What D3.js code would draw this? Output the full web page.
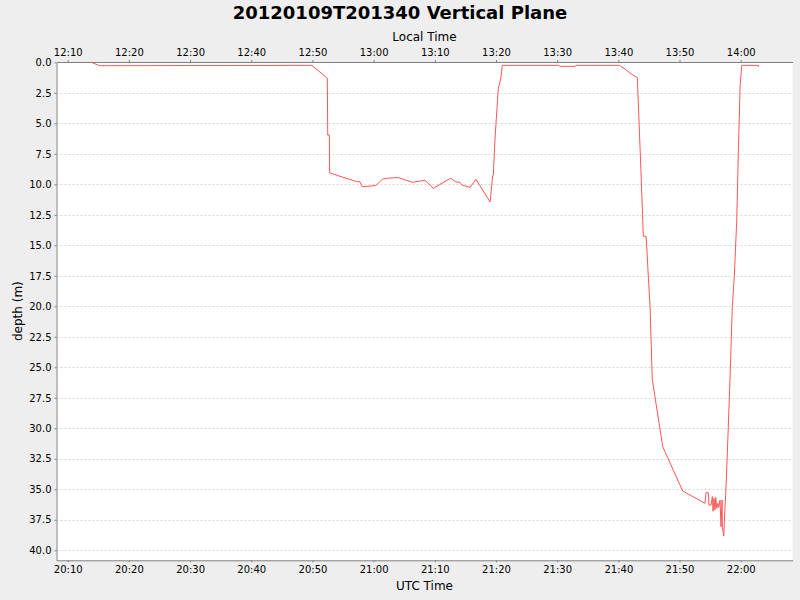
<!DOCTYPE html>
<html>
<head>
<meta charset="utf-8">
<script src="https://cdn.jsdelivr.net/npm/d3@7"></script>
<style>
  body { margin: 0; background: #eeeeee; }
  svg { display: block; font-family: "DejaVu Sans", sans-serif; }
</style>
</head>
<body>
<svg id="chart" width="800" height="600"></svg>
<script>
// dive profile, UTC clock time of each sample and depth in metres
const sampleTimes = [
  "20:13:55", "20:15:10", "20:49:53", "20:52:26", "20:52:30", "20:52:46",
  "20:52:49", "20:57:14", "20:57:47", "20:58:09", "21:00:20", "21:01:29",
  "21:02:14", "21:04:02", "21:06:20", "21:08:24", "21:09:46", "21:12:36",
  "21:13:25", "21:14:07", "21:14:24", "21:15:45", "21:16:44", "21:19:02",
  "21:19:28", "21:19:34", "21:19:51", "21:20:23", "21:20:47", "21:21:02",
  "21:30:11", "21:30:28", "21:32:55", "21:33:05", "21:40:10", "21:41:05",
  "21:41:55", "21:43:00", "21:43:06", "21:43:40", "21:44:05", "21:44:31",
  "21:44:38", "21:44:54", "21:45:11", "21:45:33", "21:47:15", "21:50:31",
  "21:54:10", "21:54:20", "21:54:43", "21:54:49", "21:55:09", "21:55:22",
  "21:55:29", "21:55:38", "21:55:48", "21:55:55", "21:56:05", "21:56:15",
  "21:56:25", "21:56:37", "21:56:47", "21:56:57", "21:57:00", "21:57:14",
  "21:57:26", "21:57:33", "21:57:49", "21:58:15", "21:58:38", "21:58:57",
  "21:59:21", "21:59:38", "21:59:54", "22:00:10", "22:02:53", "22:02:54"
];
const depths = [
  0.0, 0.28, 0.25, 1.3, 5.96, 5.96,
  9.07, 9.78, 9.8, 10.2, 10.1, 9.57,
  9.5, 9.45, 9.84, 9.67, 10.33, 9.5,
  9.8, 9.84, 10.05, 10.25, 9.59, 11.45,
  9.29, 9.24, 6.2, 2.13, 1.37, 0.25,
  0.25, 0.33, 0.33, 0.25, 0.25, 0.55,
  0.9, 1.23, 1.26, 8.5, 14.26, 14.26,
  15.0, 17.6, 20.0, 26.0, 31.5, 35.14,
  36.15, 35.28, 35.28, 36.3, 36.3, 35.6,
  36.8, 35.74, 36.7, 35.66, 36.56, 36.15,
  36.48, 35.88, 38.07, 35.88, 38.07, 38.83,
  36.43, 35.48, 32.05, 26.0, 20.03, 17.57,
  13.0, 7.0, 2.0, 0.25, 0.25, 0.38
];

const chartTitle = "20120109T201340 Vertical Plane";
const diveDate = "2012-01-09";
const localOffsetHours = -8;
const timeStart = "20:08:10";
const timeEnd = "22:08:28";
const depthMax = 40.82;
const depthStep = 2.5;

const parseTime = d3.utcParse("%Y-%m-%d %H:%M:%S");
const data = sampleTimes.map((t, i) => ({ time: parseTime(diveDate + " " + t), depth: depths[i] }));

const plot = { left: 56.5, right: 792.5, top: 62, bottom: 560.3 };

const svg = d3.select("#chart");

const xScale = d3
  .scaleUtc()
  .domain([parseTime(diveDate + " " + timeStart), parseTime(diveDate + " " + timeEnd)])
  .range([plot.left, plot.right]);

const yScale = d3
  .scaleLinear()
  .domain([0, depthMax])
  .range([plot.top + 0.3, plot.bottom]);

const fmt = d3.utcFormat("%H:%M");
const tenMinutes = d3.utcMinute.every(10);
const yTicks = d3.range(0, 40 + 0.001, depthStep);

// plot background
svg.append("rect")
  .attr("x", plot.left)
  .attr("y", plot.top)
  .attr("width", plot.right - plot.left)
  .attr("height", plot.bottom - plot.top)
  .attr("fill", "#ffffff");

// horizontal grid
svg.append("g")
  .selectAll("line")
  .data(yTicks)
  .enter()
  .append("line")
  .attr("x1", plot.left)
  .attr("x2", plot.right)
  .attr("y1", (d) => Math.round(yScale(d)) + 0.5)
  .attr("y2", (d) => Math.round(yScale(d)) + 0.5)
  .attr("stroke", "#d8d8d8")
  .attr("stroke-dasharray", "2,2");

const styleAxis = (g) => {
  g.selectAll(".domain").attr("stroke", "#808080");
  g.selectAll(".tick line").attr("stroke", "#808080");
  g.selectAll(".tick text").attr("fill", "#000").attr("font-size", 10).attr("font-family", "DejaVu Sans");
};

// bottom UTC axis
const xAxis = d3.axisBottom(xScale).ticks(tenMinutes).tickFormat(fmt).tickSize(2).tickSizeOuter(0).tickPadding(4);
svg.append("g")
  .attr("transform", `translate(0, ${plot.bottom})`)
  .call(xAxis)
  .call(styleAxis);

// top local time axis
const xAxisTop = d3
  .axisTop(xScale)
  .ticks(tenMinutes)
  .tickFormat((d) => fmt(d3.utcHour.offset(d, localOffsetHours)))
  .tickSize(2)
  .tickSizeOuter(0)
  .tickPadding(4);
svg.append("g")
  .attr("transform", `translate(0, ${plot.top})`)
  .call(xAxisTop)
  .call(styleAxis);

// depth axis
const yAxis = d3.axisLeft(yScale).tickValues(yTicks).tickFormat(d3.format(".1f")).tickSize(2).tickSizeOuter(0).tickPadding(3);
svg.append("g")
  .attr("transform", `translate(${plot.left}, 0)`)
  .call(yAxis)
  .call(styleAxis);

// depth trace
const line = d3
  .line()
  .x((d) => xScale(d.time))
  .y((d) => yScale(d.depth));

svg.append("path")
  .datum(data)
  .attr("d", line)
  .attr("fill", "none")
  .attr("stroke", "#ff5555")
  .attr("stroke-width", 1);

// titles
svg.append("text")
  .attr("x", 400)
  .attr("y", 19)
  .attr("text-anchor", "middle")
  .attr("font-size", 18)
  .attr("font-weight", "bold")
  .text(chartTitle);

svg.append("text")
  .attr("x", (plot.left + plot.right) / 2)
  .attr("y", 41)
  .attr("text-anchor", "middle")
  .attr("font-size", 12)
  .text("Local Time");

svg.append("text")
  .attr("x", (plot.left + plot.right) / 2)
  .attr("y", 590)
  .attr("text-anchor", "middle")
  .attr("font-size", 12)
  .text("UTC Time");

svg.append("text")
  .attr("transform", `translate(22, ${(plot.top + plot.bottom) / 2}) rotate(-90)`)
  .attr("text-anchor", "middle")
  .attr("font-size", 12)
  .text("depth (m)");
</script>
</body>
</html>
